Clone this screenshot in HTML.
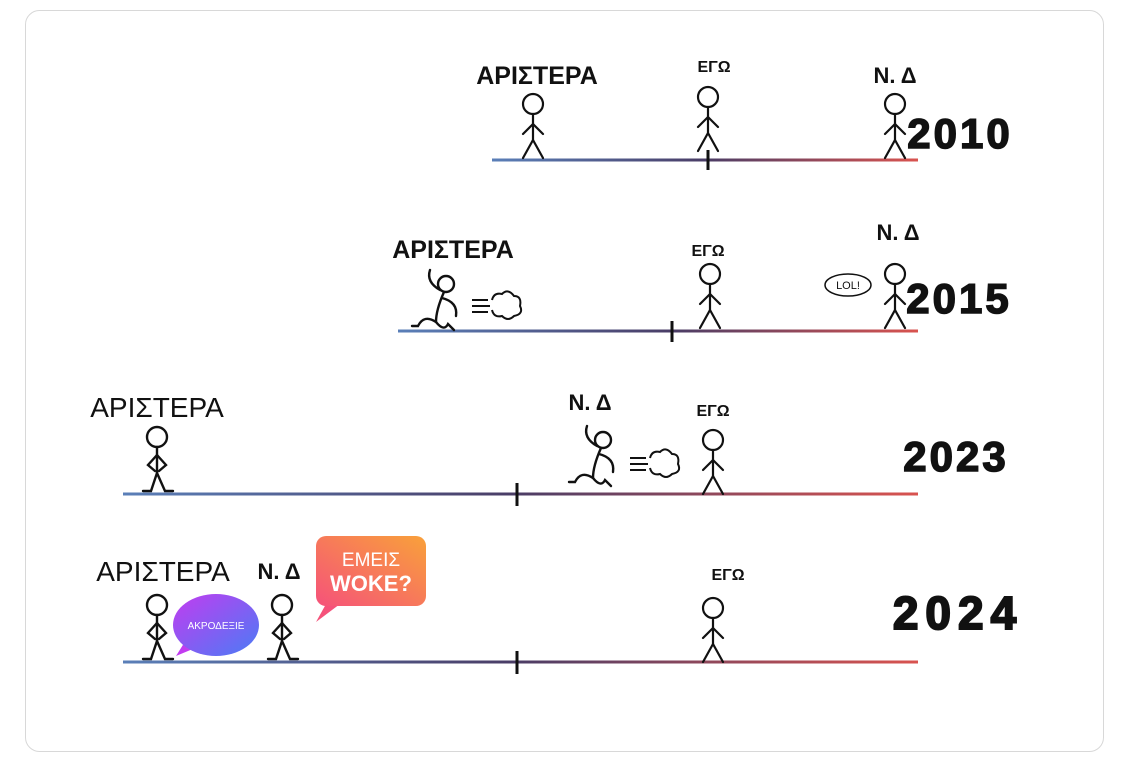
<!DOCTYPE html>
<html><head><meta charset="utf-8"><style>
html,body{margin:0;padding:0;background:#fff;}
svg text{font-family:"Liberation Sans","DejaVu Sans",sans-serif;}
</style></head><body>
<svg width="1125" height="762" viewBox="0 0 1125 762" xmlns="http://www.w3.org/2000/svg">
<defs>
<linearGradient id="g1" gradientUnits="userSpaceOnUse" x1="492" x2="918"><stop offset="0" stop-color="#5a7fb8"/><stop offset="0.5" stop-color="#4a3d66"/><stop offset="1" stop-color="#d9534f"/></linearGradient>
<linearGradient id="g2" gradientUnits="userSpaceOnUse" x1="398" x2="918"><stop offset="0" stop-color="#5a7fb8"/><stop offset="0.53" stop-color="#4a3d66"/><stop offset="1" stop-color="#d9534f"/></linearGradient>
<linearGradient id="g3" gradientUnits="userSpaceOnUse" x1="123" x2="918"><stop offset="0" stop-color="#5a7fb8"/><stop offset="0.49" stop-color="#4a3d66"/><stop offset="1" stop-color="#d9534f"/></linearGradient>
<linearGradient id="pk" x1="0" y1="1" x2="1" y2="0"><stop offset="0" stop-color="#f5527a"/><stop offset="1" stop-color="#f9a13a"/></linearGradient>
<linearGradient id="pu" x1="0" y1="0" x2="1" y2="1"><stop offset="0" stop-color="#c23cf0"/><stop offset="1" stop-color="#4a7cf5"/></linearGradient>
<g id="fig" fill="none" stroke="#111" stroke-width="2.2" stroke-linecap="round">
<circle cx="0" cy="0" r="10"/><line x1="0" y1="10" x2="0" y2="36"/><path d="M-10 30 L0 20 L10 30"/><path d="M-10 54 L0 36 L10 54"/>
</g>
<g id="run" fill="none" stroke="#111" stroke-width="2.4" stroke-linecap="round">
<circle cx="8" cy="-8" r="8"/><path d="M-8 -22 Q-12 -10 2 -2"/><path d="M6 0 Q-2 18 -2 30"/><path d="M4 6 Q20 10 18 24"/><path d="M-2 30 Q-14 22 -20 34 L-26 34"/><path d="M-2 30 Q6 40 10 32 L16 38"/>
</g>
<g id="cloud" fill="none" stroke="#111" stroke-width="2"><line x1="0" y1="-6" x2="16" y2="-6"/><line x1="0" y1="0" x2="18" y2="0"/><line x1="0" y1="6" x2="16" y2="6"/><path d="M20 -6 Q22 -14 30 -12 Q36 -18 42 -10 Q50 -10 48 0 Q52 8 42 10 Q36 16 30 10 Q22 12 20 4"/></g>
<g id="hip" fill="none" stroke="#111" stroke-width="2.4" stroke-linecap="round">
<circle cx="0" cy="0" r="10"/><line x1="0" y1="10" x2="0" y2="36"/><path d="M0 18 L-9 28 L-2 34"/><path d="M0 18 L9 28 L2 34"/><path d="M-14 54 L-6 54 L0 36 L8 54 L16 54"/>
</g>
</defs>
<rect x="25.5" y="10.5" width="1078" height="741" rx="14" fill="#fff" stroke="#d8d8d8"/>

<!-- 2010 -->
<line x1="492" y1="160" x2="918" y2="160" stroke="url(#g1)" stroke-width="3"/>
<line x1="708" y1="150" x2="708" y2="170" stroke="#111" stroke-width="3"/>
<text x="537" y="84" font-size="25" font-weight="bold" text-anchor="middle" fill="#111">ΑΡΙΣΤΕΡΑ</text>
<text x="714" y="72" font-size="16" font-weight="bold" text-anchor="middle" fill="#111">ΕΓΩ</text>
<text x="895" y="83" font-size="22" font-weight="bold" text-anchor="middle" fill="#111">Ν. Δ</text>
<use href="#fig" x="533" y="104"/><use href="#fig" x="708" y="97"/><use href="#fig" x="895" y="104"/>
<text x="960" y="148" font-size="42" font-weight="bold" letter-spacing="3" text-anchor="middle" fill="#111" stroke="#111" stroke-width="1.5">2010</text>

<!-- 2015 -->
<line x1="398" y1="331" x2="918" y2="331" stroke="url(#g2)" stroke-width="3"/>
<line x1="672" y1="321" x2="672" y2="342" stroke="#111" stroke-width="3"/>
<text x="453" y="258" font-size="25" font-weight="bold" text-anchor="middle" fill="#111">ΑΡΙΣΤΕΡΑ</text>
<use href="#run" x="438" y="292"/><use href="#cloud" x="472" y="306"/>
<text x="708" y="256" font-size="16" font-weight="bold" text-anchor="middle" fill="#111">ΕΓΩ</text>
<use href="#fig" x="710" y="274"/>
<text x="898" y="240" font-size="22" font-weight="bold" text-anchor="middle" fill="#111">Ν. Δ</text>
<use href="#fig" x="895" y="274"/>
<ellipse cx="848" cy="285" rx="23" ry="11" fill="#fff" stroke="#111" stroke-width="1.5"/>
<text x="848" y="289" font-size="11" text-anchor="middle" fill="#111">LOL!</text>
<text x="959" y="313" font-size="42" font-weight="bold" letter-spacing="3" text-anchor="middle" fill="#111" stroke="#111" stroke-width="1.5">2015</text>

<!-- 2023 -->
<line x1="123" y1="494" x2="918" y2="494" stroke="url(#g3)" stroke-width="3"/>
<line x1="517" y1="483" x2="517" y2="506" stroke="#111" stroke-width="3"/>
<text x="157" y="417" font-size="28" text-anchor="middle" fill="#111">ΑΡΙΣΤΕΡΑ</text>
<use href="#hip" x="157" y="437"/>
<text x="590" y="410" font-size="22" font-weight="bold" text-anchor="middle" fill="#111">Ν. Δ</text>
<use href="#run" x="595" y="448"/><use href="#cloud" x="630" y="464"/>
<text x="713" y="416" font-size="16" font-weight="bold" text-anchor="middle" fill="#111">ΕΓΩ</text>
<use href="#fig" x="713" y="440"/>
<text x="956" y="471" font-size="42" font-weight="bold" letter-spacing="3" text-anchor="middle" fill="#111" stroke="#111" stroke-width="1.5">2023</text>

<!-- 2024 -->
<line x1="123" y1="662" x2="918" y2="662" stroke="url(#g3)" stroke-width="3"/>
<line x1="517" y1="651" x2="517" y2="674" stroke="#111" stroke-width="3"/>
<text x="163" y="581" font-size="28" text-anchor="middle" fill="#111">ΑΡΙΣΤΕΡΑ</text>
<text x="279" y="579" font-size="22" font-weight="bold" text-anchor="middle" fill="#111">Ν. Δ</text>
<use href="#hip" x="157" y="605"/><use href="#hip" x="282" y="605"/>
<path d="M326 604 L316 622 L340 604 Z" fill="#f5527a"/>
<rect x="316" y="536" width="110" height="70" rx="10" fill="url(#pk)"/>
<text x="371" y="566" font-size="19" text-anchor="middle" fill="#fff">ΕΜΕΙΣ</text>
<text x="371" y="591" font-size="22" font-weight="bold" text-anchor="middle" fill="#fff">WOKE?</text>
<path d="M186 640 L176 656 L200 646 Z" fill="#c23cf0"/>
<ellipse cx="216" cy="625" rx="43" ry="31" fill="url(#pu)"/>
<text x="216" y="629" font-size="10" text-anchor="middle" fill="#fff">ΑΚΡΟΔΕΞΙΕ</text>
<text x="728" y="580" font-size="16" font-weight="bold" text-anchor="middle" fill="#111">ΕΓΩ</text>
<use href="#fig" x="713" y="608"/>
<text x="958" y="629" font-size="46" font-weight="bold" letter-spacing="7" text-anchor="middle" fill="#111" stroke="#111" stroke-width="2">2024</text>
</svg>
</body></html>
